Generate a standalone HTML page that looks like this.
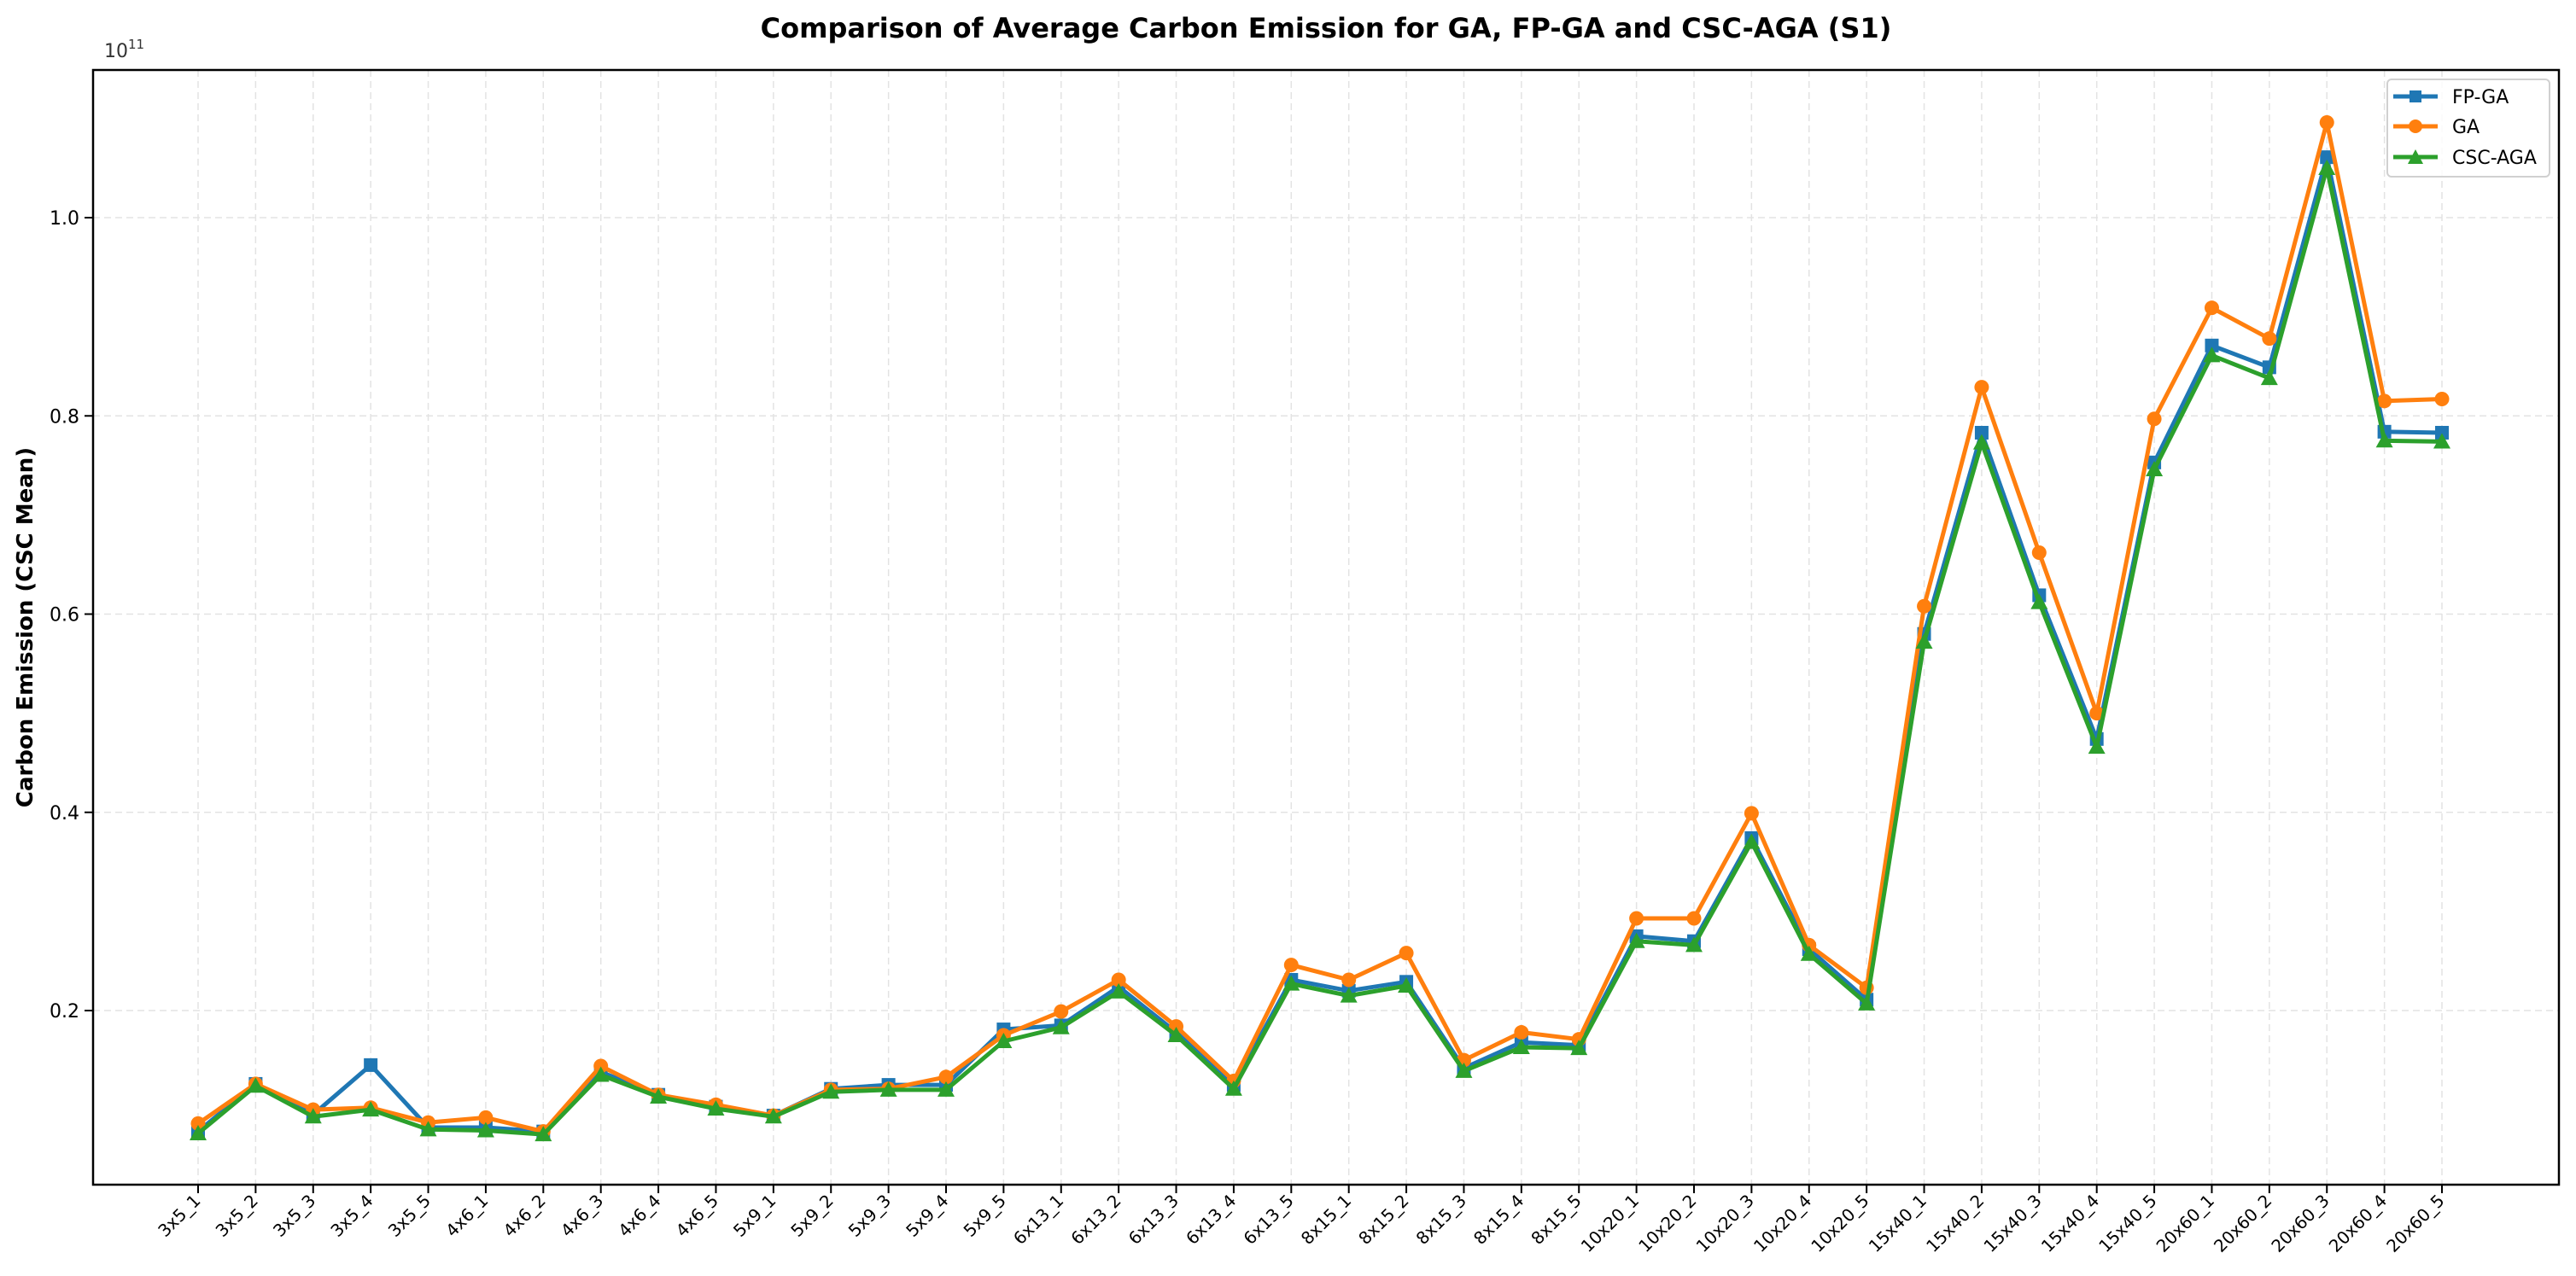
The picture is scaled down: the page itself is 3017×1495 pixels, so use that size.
<!DOCTYPE html>
<html><head><meta charset="utf-8"><style>body{margin:0;background:#fff}svg{display:block;font-family:"DejaVu Sans","Liberation Sans",sans-serif}</style></head>
<body>
<svg id="chart" width="3017" height="1495" viewBox="0 0 3017 1495" xmlns="http://www.w3.org/2000/svg">
<text x="1553" y="44" text-anchor="middle" font-size="32" font-weight="bold">Comparison of Average Carbon Emission for GA, FP-GA and CSC-AGA (S1)</text>
<text transform="translate(38,735) rotate(-90)" text-anchor="middle" font-size="26" font-weight="bold">Carbon Emission (CSC Mean)</text>
<text x="122" y="67" font-size="22" fill="#333">10<tspan font-size="15" dy="-10">11</tspan></text>
<g id="grid"></g><g id="axes"></g><g id="series"></g>
<rect x="109" y="82" width="2888" height="1306" fill="none" stroke="#000" stroke-width="2.5"/>
<g>
<rect x="2796" y="93" width="190" height="114" rx="5" fill="#fff" fill-opacity="0.85" stroke="#d0d0d0" stroke-width="2"/>
<g><line x1="2803" y1="113" x2="2855" y2="113" stroke="#1f77b4" stroke-width="5"/><rect x="2822" y="106" width="14" height="14" fill="#1f77b4"/><text x="2872" y="121" font-size="22">FP-GA</text></g>
<g><line x1="2803" y1="148" x2="2855" y2="148" stroke="#ff7f0e" stroke-width="5"/><circle cx="2829" cy="148" r="8" fill="#ff7f0e"/><text x="2872" y="156" font-size="22">GA</text></g>
<g><line x1="2803" y1="184" x2="2855" y2="184" stroke="#2ca02c" stroke-width="5"/><path d="M2829 175 L2838 192 L2820 192 Z" fill="#2ca02c"/><text x="2872" y="192" font-size="22">CSC-AGA</text></g>
</g>
</svg>
<script>
const categories=["3x5_1","3x5_2","3x5_3","3x5_4","3x5_5","4x6_1","4x6_2","4x6_3","4x6_4","4x6_5","5x9_1","5x9_2","5x9_3","5x9_4","5x9_5","6x13_1","6x13_2","6x13_3","6x13_4","6x13_5","8x15_1","8x15_2","8x15_3","8x15_4","8x15_5","10x20_1","10x20_2","10x20_3","10x20_4","10x20_5","15x40_1","15x40_2","15x40_3","15x40_4","15x40_5","20x60_1","20x60_2","20x60_3","20x60_4","20x60_5"];
const fpga=[0.078,0.126,0.095,0.145,0.082,0.082,0.078,0.138,0.115,0.103,0.094,0.121,0.125,0.125,0.181,0.185,0.224,0.178,0.125,0.231,0.220,0.229,0.142,0.168,0.165,0.275,0.270,0.374,0.262,0.211,0.580,0.783,0.619,0.474,0.753,0.871,0.849,1.061,0.784,0.783];
const ga=[0.086,0.126,0.100,0.102,0.087,0.092,0.078,0.144,0.115,0.105,0.094,0.120,0.121,0.133,0.175,0.199,0.231,0.184,0.129,0.246,0.231,0.258,0.150,0.178,0.171,0.293,0.293,0.399,0.266,0.223,0.608,0.829,0.662,0.500,0.797,0.909,0.878,1.096,0.815,0.817];
const cscaga=[0.076,0.124,0.093,0.100,0.080,0.079,0.075,0.135,0.113,0.101,0.093,0.118,0.120,0.120,0.169,0.183,0.219,0.175,0.121,0.227,0.215,0.225,0.139,0.163,0.162,0.270,0.266,0.370,0.257,0.207,0.572,0.773,0.612,0.466,0.746,0.861,0.838,1.050,0.775,0.774];
const yTicks=[0.2,0.4,0.6,0.8,1.0];
const yTickLabels=["0.2","0.4","0.6","0.8","1.0"];
const NS="http://www.w3.org/2000/svg";
function xs(i){return 232+i*(2860-232)/39;}
function ys(v){return 1184-(v-0.2)*1161.25;}
function mk(tag,attrs,parent){const e=document.createElementNS(NS,tag);for(const k in attrs)e.setAttribute(k,attrs[k]);parent.appendChild(e);return e;}
const grid=document.getElementById('grid'),axes=document.getElementById('axes'),ser=document.getElementById('series');
categories.forEach((c,i)=>{
  const x=xs(i);
  const g=mk('line',{x1:x,y1:82,x2:x,y2:1388,stroke:'#e3e3e3','stroke-width':1.5,'stroke-dasharray':'8,5'},grid);
  
  
  const t=mk('line',{x1:x,y1:1388,x2:x,y2:1398,stroke:'#000','stroke-width':2},axes);
  
  
  const l=mk('text',{transform:`translate(${x+4},${1408}) rotate(-45)`,'text-anchor':'end','font-size':20},axes);
  l.textContent=c;
  
  
});
yTicks.forEach((v,i)=>{
  const y=ys(v);
  const g=mk('line',{x1:109,y1:y,x2:2997,y2:y,stroke:'#e3e3e3','stroke-width':1.5,'stroke-dasharray':'8,5'},grid);
  
  
  const t=mk('line',{x1:99,y1:y,x2:109,y2:y,stroke:'#000','stroke-width':2},axes);
  
  
  const l=mk('text',{x:93,y:y+8,'text-anchor':'end','font-size':22},axes);
  l.textContent=yTickLabels[i];
  
  
});
function draw(vals,color,marker,name){
  const g=mk('g',{},ser);
  
  
  const pts=vals.map((v,i)=>xs(i).toFixed(1)+','+ys(v).toFixed(1)).join(' ');
  const pl=mk('polyline',{points:pts,fill:'none',stroke:color,'stroke-width':5,'stroke-linejoin':'round'},g);
  
  
  vals.forEach((v,i)=>{
    const x=xs(i),y=ys(v);let m;
    if(marker==='s')m=mk('rect',{x:x-8,y:y-8,width:16,height:16,fill:color},g);
    else if(marker==='o')m=mk('circle',{cx:x,cy:y,r:8.5,fill:color},g);
    else m=mk('path',{d:`M${x} ${y-10} L${x+10} ${y+8} L${x-10} ${y+8} Z`,fill:color},g);
    
    
  });
}
draw(fpga,'#1f77b4','s','fp-ga');
draw(ga,'#ff7f0e','o','ga');
draw(cscaga,'#2ca02c','^','csc-aga');
</script>
</body></html>
